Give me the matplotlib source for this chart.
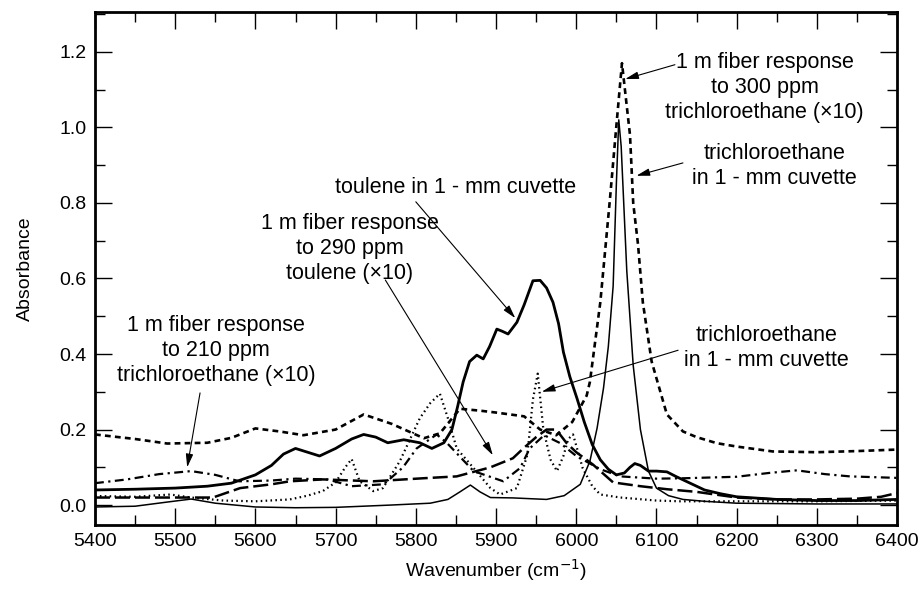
import matplotlib
matplotlib.use("Agg")
import matplotlib.pyplot as plt
from matplotlib.ticker import MultipleLocator

plt.rcParams['font.family'] = ['Liberation Sans', 'DejaVu Sans']

# toulene in 1-mm cuvette (thick solid)
tol_x = [5400, 5450, 5500, 5540, 5570, 5600, 5620, 5635, 5650, 5665, 5680, 5700, 5720, 5735,
	5750, 5765, 5785, 5805, 5820, 5835, 5845, 5852, 5859, 5867, 5876, 5884, 5892, 5901, 5908,
	5915, 5926, 5935, 5946, 5955, 5963, 5971, 5978, 5984, 5992, 6001, 6010, 6020, 6030, 6040,
	6050, 6060, 6067, 6073, 6080, 6090, 6100, 6113, 6125, 6140, 6160, 6180, 6200, 6250, 6300,
	6350, 6400]
tol_y = [0.04, 0.042, 0.045, 0.05, 0.058, 0.08, 0.105, 0.135, 0.15, 0.14, 0.13, 0.15, 0.175, 0.187,
	0.18, 0.165, 0.173, 0.165, 0.15, 0.165, 0.2, 0.26, 0.326, 0.38, 0.397, 0.387, 0.42, 0.466, 0.46,
	0.453, 0.484, 0.53, 0.594, 0.595, 0.575, 0.537, 0.48, 0.405, 0.34, 0.282, 0.22, 0.16, 0.12, 0.095,
	0.08, 0.085, 0.1, 0.11, 0.105, 0.09, 0.09, 0.088, 0.075, 0.06, 0.04, 0.03, 0.022, 0.015, 0.012,
	0.012, 0.015]

# trichloroethane in 1-mm cuvette (thin solid, sharp peak)
tce_x = [5400, 5450, 5490, 5520, 5550, 5600, 5650, 5700, 5768, 5818, 5840, 5855, 5868, 5880, 5893,
	5921, 5963, 5985, 6005, 6017, 6026, 6034, 6040, 6046, 6050, 6053, 6056, 6063, 6071, 6080, 6090,
	6100, 6115, 6133, 6160, 6200, 6300, 6400]
tce_y = [-0.005, -0.003, 0.008, 0.016, 0.005, -0.005, -0.007, -0.006, 0.0, 0.005, 0.015, 0.035, 0.053,
	0.035, 0.02, 0.019, 0.015, 0.025, 0.055, 0.116, 0.204, 0.31, 0.42, 0.58, 0.85, 1.02, 0.95, 0.62,
	0.37, 0.2, 0.09, 0.045, 0.025, 0.015, 0.01, 0.005, 0.003, 0.003]

# 1 m fiber, 300 ppm trichloroethane x10 (short dash)
f300_x = [5400, 5450, 5490, 5540, 5570, 5600, 5630, 5660, 5700, 5735, 5770, 5810, 5830, 5855, 5880,
	5900, 5935, 5955, 5975, 5995, 6013, 6017, 6030, 6042, 6049, 6057, 6067, 6071, 6077, 6083, 6094,
	6113, 6133, 6150, 6175, 6200, 6245, 6300, 6350, 6400]
f300_y = [0.187, 0.175, 0.163, 0.165, 0.178, 0.203, 0.195, 0.185, 0.2, 0.24, 0.215, 0.177, 0.19, 0.255,
	0.25, 0.245, 0.235, 0.2, 0.185, 0.22, 0.29, 0.326, 0.537, 0.81, 0.98, 1.17, 0.98, 0.8, 0.69, 0.537,
	0.38, 0.24, 0.195, 0.18, 0.164, 0.155, 0.142, 0.14, 0.143, 0.147]

# 1 m fiber, 210 ppm trichloroethane x10 (dash-dot)
f210_x = [5400, 5440, 5480, 5520, 5550, 5580, 5620, 5650, 5690, 5720, 5760, 5784, 5801, 5826, 5839,
	5872, 5909, 5930, 5942, 5960, 5980, 6000, 6030, 6055, 6100, 6133, 6200, 6240, 6275, 6310, 6341, 6400]
f210_y = [0.058, 0.068, 0.082, 0.09, 0.08, 0.063, 0.065, 0.07, 0.068, 0.05, 0.055, 0.1, 0.15, 0.187, 0.164,
	0.09, 0.063, 0.098, 0.15, 0.185, 0.164, 0.13, 0.095, 0.076, 0.07, 0.071, 0.075, 0.085, 0.092, 0.082,
	0.076, 0.072]

# 1 m fiber, 290 ppm toulene x10 (long dash)
f290_x = [5400, 5450, 5500, 5547, 5581, 5620, 5643, 5684, 5747, 5809, 5851, 5893, 5921, 5934, 5950,
	5963, 5975, 5988, 6000, 6021, 6046, 6080, 6113, 6150, 6200, 6250, 6300, 6350, 6380, 6400]
f290_y = [0.02, 0.02, 0.02, 0.02, 0.045, 0.055, 0.063, 0.068, 0.063, 0.071, 0.076, 0.1, 0.124, 0.15, 0.18,
	0.2, 0.2, 0.164, 0.14, 0.107, 0.06, 0.05, 0.042, 0.035, 0.02, 0.015, 0.015, 0.017, 0.022, 0.032]

# trichloroethane in 1-mm cuvette (dotted)
dot_x = [5400, 5450, 5494, 5520, 5560, 5600, 5643, 5665, 5684, 5700, 5712, 5720, 5730, 5747, 5759,
	5780, 5805, 5818, 5830, 5840, 5851, 5872, 5893, 5905, 5926, 5939, 5946, 5952, 5959, 5968, 5976,
	5984, 5990, 5996, 6008, 6020, 6030, 6055, 6100, 6130, 6200, 6300, 6400]
dot_y = [0.024, 0.022, 0.028, 0.02, 0.012, 0.01, 0.015, 0.025, 0.037, 0.06, 0.1, 0.122, 0.063, 0.037,
	0.045, 0.116, 0.23, 0.27, 0.295, 0.23, 0.15, 0.098, 0.045, 0.028, 0.045, 0.133, 0.28, 0.348, 0.2,
	0.12, 0.09, 0.13, 0.175, 0.187, 0.098, 0.05, 0.028, 0.02, 0.012, 0.01, 0.01, 0.01, 0.012]


def add_label(ax, text, pos):
	"""centered multi-line annotation text"""
	ax.text(pos[0], pos[1], text, ha='center', va='center', fontsize=15.5, linespacing=1.25)


def add_arrow(ax, tip, start):
	"""thin arrow from the text to a curve"""
	ax.annotate('', xy=tip, xytext=start,
		arrowprops=dict(arrowstyle='-|>,head_length=0.8,head_width=0.22', color='black',
			lw=0.8, shrinkA=0, shrinkB=0))


def main():
	fig = plt.figure(figsize=(9.22, 5.92), dpi=100)
	ax = fig.add_axes([0.103, 0.113, 0.87, 0.867])

	ax.plot(tol_x, tol_y, color='black', lw=2.0)
	ax.plot(tce_x, tce_y, color='black', lw=1.1)
	ax.plot(f300_x, f300_y, color='black', lw=1.9, linestyle=(0, (2.2, 1.6)))
	ax.plot(f210_x, f210_y, color='black', lw=1.6, linestyle=(0, (4, 2, 1, 2)))
	ax.plot(f290_x, f290_y, color='black', lw=1.8, linestyle=(0, (6, 2)))
	ax.plot(dot_x, dot_y, color='black', lw=1.6, linestyle=(0, (0.7, 1.5)))

	ax.set_xlim(5400, 6400)
	ax.set_ylim(-0.053, 1.306)
	ax.xaxis.set_major_locator(MultipleLocator(100))
	ax.xaxis.set_minor_locator(MultipleLocator(50))
	ax.yaxis.set_minor_locator(MultipleLocator(0.1))
	ax.set_yticks([0.0, 0.2, 0.4, 0.6, 0.8, 1.0, 1.2])
	ax.set_yticklabels(['0.0', '0.2', '0.4', '0.6', '0.8', '1.0', '1.2'])
	ax.tick_params(which='both', direction='in', top=True, right=True, labelsize=14, width=1)
	ax.tick_params(which='major', length=12, pad=6)
	ax.tick_params(which='minor', length=7.5)
	for sp in ax.spines.values():
		sp.set_linewidth(2)

	ax.set_xlabel('Wavenumber (cm$^{-1}$)', fontsize=14, labelpad=5)
	ax.set_ylabel('Absorbance', fontsize=14, labelpad=18)

	add_label(ax, '1 m fiber response\nto 300 ppm\ntrichloroethane (\u00d710)', (6235, 1.105))
	add_arrow(ax, (6061, 1.128), (6123, 1.166))
	add_label(ax, 'trichloroethane\nin 1 - mm cuvette', (6247, 0.898))
	add_arrow(ax, (6075, 0.872), (6133, 0.906))
	add_label(ax, 'toulene in 1 - mm cuvette', (5849, 0.84))
	add_arrow(ax, (5924, 0.495), (5800, 0.803))
	add_label(ax, '1 m fiber response\nto 290 ppm\ntoulene (\u00d710)', (5718, 0.68))
	add_arrow(ax, (5896, 0.132), (5762, 0.596))
	add_label(ax, 'trichloroethane\nin 1 - mm cuvette', (6237, 0.416))
	add_arrow(ax, (5957, 0.30), (6127, 0.41))
	add_label(ax, '1 m fiber response\nto 210 ppm\ntrichloroethane (\u00d710)', (5551, 0.408))
	add_arrow(ax, (5515, 0.10), (5531, 0.297))

	fig.savefig('out.png', dpi=100)


if __name__ == "__main__":
	main()
